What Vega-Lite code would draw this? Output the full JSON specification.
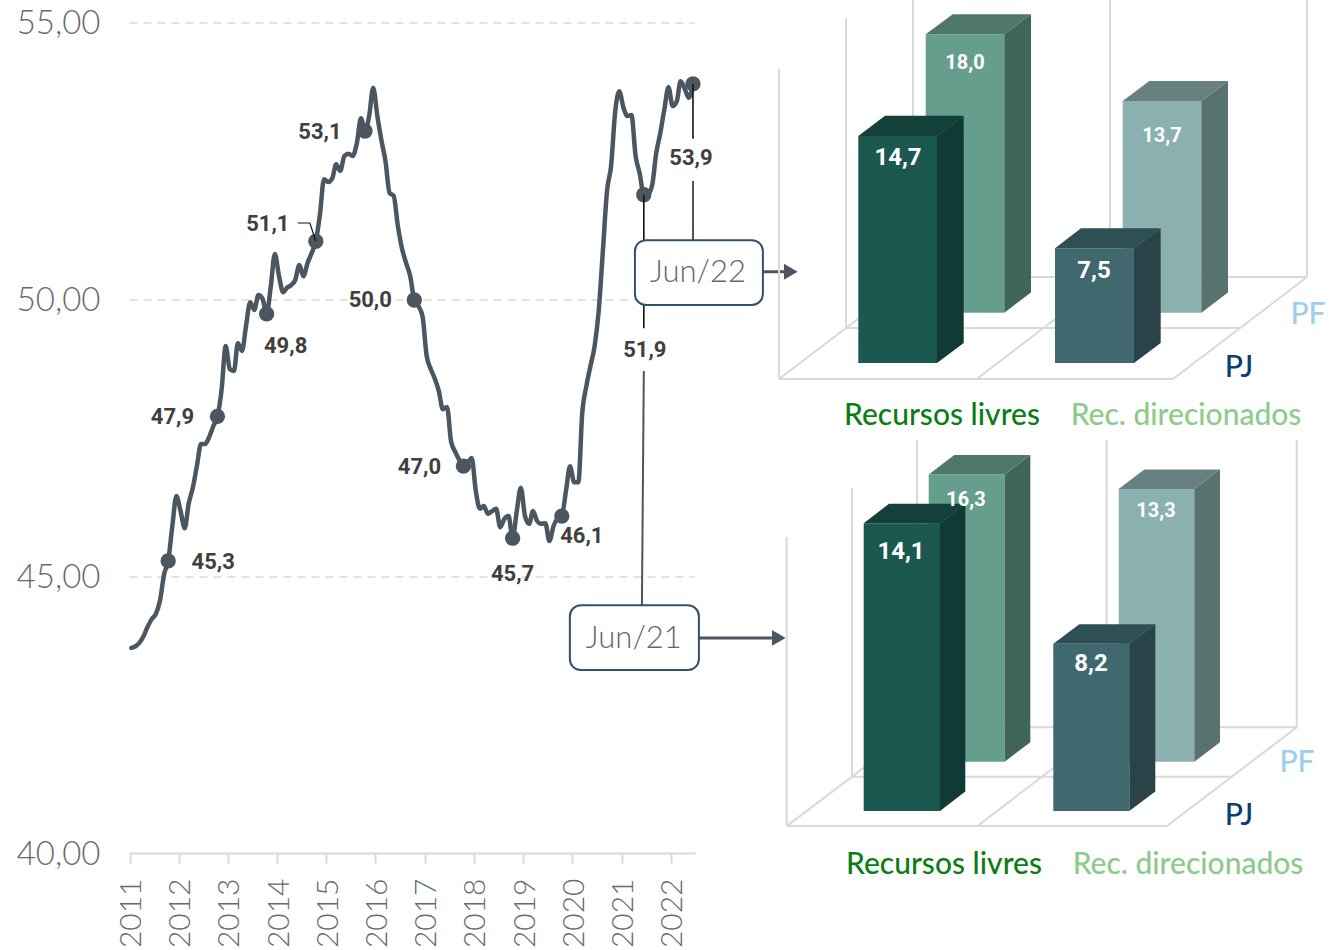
{"$schema":"https://vega.github.io/schema/vega-lite/v6.json","width":1341,"height":950,"padding":0,"autosize":"none","background":"white","config":{"view":{"stroke":null},"style":{"cell":{"stroke":null}}},
"datasets":{
"series":[
{"m":"2011-01-15","v":43.72},{"m":"2011-02-15","v":43.75},{"m":"2011-03-15","v":43.81},{"m":"2011-04-15","v":43.93},{"m":"2011-05-15","v":44.10},{"m":"2011-06-15","v":44.24},{"m":"2011-07-15","v":44.33},{"m":"2011-08-15","v":44.57},{"m":"2011-09-15","v":45.05},{"m":"2011-10-15","v":45.29,"label":"45,3"},{"m":"2011-11-15","v":45.92},{"m":"2011-12-15","v":46.46},
{"m":"2012-01-15","v":46.19},{"m":"2012-02-15","v":45.88},{"m":"2012-03-15","v":46.32},{"m":"2012-04-15","v":46.61},{"m":"2012-05-15","v":47.00},{"m":"2012-06-15","v":47.40},{"m":"2012-07-15","v":47.40},{"m":"2012-08-15","v":47.53},{"m":"2012-09-15","v":47.73},{"m":"2012-10-15","v":47.9,"label":"47,9"},{"m":"2012-11-15","v":48.39},{"m":"2012-12-15","v":49.17},
{"m":"2013-01-15","v":48.75},{"m":"2013-02-15","v":48.72},{"m":"2013-03-15","v":49.22},{"m":"2013-04-15","v":49.08},{"m":"2013-05-15","v":49.53},{"m":"2013-06-15","v":49.96},{"m":"2013-07-15","v":49.82},{"m":"2013-08-15","v":50.09},{"m":"2013-09-15","v":50.02},{"m":"2013-10-15","v":49.75,"label":"49,8"},{"m":"2013-11-15","v":50.25},{"m":"2013-12-15","v":50.83},
{"m":"2014-01-15","v":50.43},{"m":"2014-02-15","v":50.14},{"m":"2014-03-15","v":50.22},{"m":"2014-04-15","v":50.27},{"m":"2014-05-15","v":50.36},{"m":"2014-06-15","v":50.63},{"m":"2014-07-15","v":50.43},{"m":"2014-08-15","v":50.67},{"m":"2014-09-15","v":50.85},{"m":"2014-10-15","v":51.06,"label":"51,1"},{"m":"2014-11-15","v":51.55},{"m":"2014-12-15","v":52.18},
{"m":"2015-01-15","v":52.13},{"m":"2015-02-15","v":52.20},{"m":"2015-03-15","v":52.45},{"m":"2015-04-15","v":52.33},{"m":"2015-05-15","v":52.60},{"m":"2015-06-15","v":52.64},{"m":"2015-07-15","v":52.60},{"m":"2015-08-15","v":52.82},{"m":"2015-09-15","v":53.28},{"m":"2015-10-15","v":53.05,"label":"53,1"},{"m":"2015-11-15","v":53.32},{"m":"2015-12-15","v":53.83},
{"m":"2016-01-15","v":53.32},{"m":"2016-02-15","v":52.87},{"m":"2016-03-15","v":52.51},{"m":"2016-04-15","v":51.93},{"m":"2016-05-15","v":51.88},{"m":"2016-06-15","v":51.34},{"m":"2016-07-15","v":50.94},{"m":"2016-08-15","v":50.67},{"m":"2016-09-15","v":50.43},{"m":"2016-10-15","v":50.0,"label":"50,0"},{"m":"2016-11-15","v":49.89},{"m":"2016-12-15","v":49.71},
{"m":"2017-01-15","v":48.99},{"m":"2017-02-15","v":48.75},{"m":"2017-03-15","v":48.59},{"m":"2017-04-15","v":48.36},{"m":"2017-05-15","v":48.03},{"m":"2017-06-15","v":48.07},{"m":"2017-07-15","v":47.45},{"m":"2017-08-15","v":47.26},{"m":"2017-09-15","v":47.11},{"m":"2017-10-15","v":47.0,"label":"47,0"},{"m":"2017-11-15","v":47.06},{"m":"2017-12-15","v":47.15},
{"m":"2018-01-15","v":46.55},{"m":"2018-02-15","v":46.23},{"m":"2018-03-15","v":46.28},{"m":"2018-04-15","v":46.14},{"m":"2018-05-15","v":46.19},{"m":"2018-06-15","v":46.23},{"m":"2018-07-15","v":45.90},{"m":"2018-08-15","v":46.05},{"m":"2018-09-15","v":46.10},{"m":"2018-10-15","v":45.7,"label":"45,7"},{"m":"2018-11-15","v":46.19},{"m":"2018-12-15","v":46.61},
{"m":"2019-01-15","v":46.10},{"m":"2019-02-15","v":45.96},{"m":"2019-03-15","v":46.19},{"m":"2019-04-15","v":46.01},{"m":"2019-05-15","v":45.96},{"m":"2019-06-15","v":45.97},{"m":"2019-07-15","v":45.65},{"m":"2019-08-15","v":45.92},{"m":"2019-09-15","v":46.06},{"m":"2019-10-15","v":46.1,"label":"46,1"},{"m":"2019-11-15","v":46.55},{"m":"2019-12-15","v":47.00},
{"m":"2020-01-15","v":46.71},{"m":"2020-02-15","v":46.71},{"m":"2020-03-15","v":47.96},{"m":"2020-04-15","v":48.45},{"m":"2020-05-15","v":48.81},{"m":"2020-06-15","v":49.17},{"m":"2020-07-15","v":49.80},{"m":"2020-08-15","v":50.88},{"m":"2020-09-15","v":51.97},{"m":"2020-10-15","v":52.42},{"m":"2020-11-15","v":53.41},{"m":"2020-12-15","v":53.77},
{"m":"2021-01-15","v":53.47},{"m":"2021-02-15","v":53.32},{"m":"2021-03-15","v":53.34},{"m":"2021-04-15","v":52.60},{"m":"2021-05-15","v":52.29},{"m":"2021-06-15","v":51.9,"label":"51,9"},{"m":"2021-07-15","v":51.91},{"m":"2021-08-15","v":52.06},{"m":"2021-09-15","v":52.65},{"m":"2021-10-15","v":53.01},{"m":"2021-11-15","v":53.45},{"m":"2021-12-15","v":53.84},
{"m":"2022-01-15","v":53.50},{"m":"2022-02-15","v":53.59},{"m":"2022-03-15","v":53.95},{"m":"2022-04-15","v":53.81},{"m":"2022-05-15","v":53.65},{"m":"2022-06-15","v":53.9,"label":"53,9"}],
"gridY":[{"v":45,"m":"2011-01-01","m2":"2022-06-30"},{"v":50,"m":"2011-01-01","m2":"2022-06-30"},{"v":55,"m":"2011-01-01","m2":"2022-06-30"}],
"leadBlack":[{"g":"a","m":"2022-06-15","v":53.9},{"g":"a","m":"2022-06-15","v":52.91},{"g":"b","m":"2021-06-15","v":51.9},{"g":"b","m":"2021-06-15","v":49.49}],
"leadThin":[{"m":"2014-06-03","v":51.39},{"m":"2014-09-01","v":51.39},{"m":"2014-10-15","v":51.06}],
"leadGrey":[{"g":"c","m":"2022-06-15","v":52.15},{"g":"c","m":"2022-06-15","v":51.06},{"g":"d","m":"2021-06-15","v":48.72},{"g":"d","m":"2021-06-01","v":44.48}],
"arrows":[{"g":"e","m":"2023-11-16","v":50.51},{"g":"e","m":"2024-04-27","v":50.51},{"g":"f","m":"2022-07-29","v":43.9},{"g":"f","m":"2024-01-22","v":43.9}],
"tips":[{"m":"2024-06-10","v":50.51},{"m":"2024-03-13","v":43.9}],
"boxes":[{"m":"2021-04-10","m2":"2023-11-16","v":51.08,"v2":49.91,"mc":"2022-07-22","vc":50.49,"t":"Jun/22"},{"m":"2019-12-14","m2":"2022-07-29","v":44.49,"v2":43.32,"mc":"2021-04-02","vc":43.88,"t":"Jun/21"}],
"grid1":[{"g":"a","u":-0.1,"v":-1.04},{"g":"a","u":39.3,"v":-1.04},{"g":"b","u":6.6,"v":2.27},{"g":"b","u":46,"v":2.27},{"g":"c","u":13.3,"v":5.58},{"g":"c","u":52.7,"v":5.58},{"g":"d","u":-0.1,"v":-1.04},{"g":"d","u":13.3,"v":5.58},{"g":"e","u":19.67,"v":-1.04},{"g":"e","u":33,"v":5.58},{"g":"f","u":39.3,"v":-1.04},{"g":"f","u":52.7,"v":5.58},{"g":"h","u":-0.1,"v":-1.04},{"g":"h","u":-0.1,"v":19.09},{"g":"i","u":6.6,"v":2.27},{"g":"i","u":6.6,"v":22.4},{"g":"j","u":13.3,"v":5.58},{"g":"j","u":13.3,"v":23.57},{"g":"k","u":33,"v":5.58},{"g":"k","u":33,"v":23.57},{"g":"l","u":52.7,"v":5.58},{"g":"l","u":52.7,"v":23.57}],
"faces1":[{"f":"PF livres frente","u":14.57,"v":3.27,"v2":21.34},{"f":"PF livres frente","u":22.43,"v":3.27,"v2":21.34},{"f":"PF livres lado","u":22.43,"v":3.27,"v2":21.34},{"f":"PF livres lado","u":25.1,"v":4.57,"v2":22.64},{"f":"PF dir frente","u":34.27,"v":3.27,"v2":17.01},{"f":"PF dir frente","u":42.13,"v":3.27,"v2":17.01},{"f":"PF dir lado","u":42.13,"v":3.27,"v2":17.01},{"f":"PF dir lado","u":44.8,"v":4.57,"v2":18.31},{"f":"PJ livres frente","u":7.83,"v":0,"v2":14.74},{"f":"PJ livres frente","u":15.7,"v":0,"v2":14.74},{"f":"PJ livres lado","u":15.7,"v":0,"v2":14.74},{"f":"PJ livres lado","u":18.37,"v":1.3,"v2":16.05},{"f":"PJ dir frente","u":27.5,"v":0,"v2":7.45},{"f":"PJ dir frente","u":35.4,"v":0,"v2":7.45},{"f":"PJ dir lado","u":35.4,"v":0,"v2":7.45},{"f":"PJ dir lado","u":38.07,"v":1.3,"v2":8.75}],
"tops1":[{"f":"PF livres topo","u":14.57,"u2":22.43,"v":21.34},{"f":"PF livres topo","u":17.27,"u2":25.1,"v":22.64},{"f":"PF dir topo","u":34.27,"u2":42.13,"v":17.01},{"f":"PF dir topo","u":36.93,"u2":44.8,"v":18.31},{"f":"PJ livres topo","u":7.83,"u2":15.7,"v":14.74},{"f":"PJ livres topo","u":10.5,"u2":18.37,"v":16.05},{"f":"PJ dir topo","u":27.5,"u2":35.4,"v":7.45},{"f":"PJ dir topo","u":30.1,"u2":38.07,"v":8.75}],
"valPJ1":[{"t":"14,7","u":11.8,"v":13.31},{"t":"7,5","u":31.4,"v":5.97}],
"valPF1":[{"t":"18,0","u":18.5,"v":19.48},{"t":"13,7","u":38.2,"v":14.74}],
"cat1":[{"t":"Recursos livres","f":"Recursos livres","u":16.2,"v":-3.44},{"t":"Rec. direcionados","f":"Rec. direcionados","u":40.6,"v":-3.44},{"t":"PF","f":"PF","u":52.8,"v":3.12},{"t":"PJ","f":"PJ","u":45.9,"v":-0.32}],
"grid2":[{"g":"a","u":0.67,"v":-0.74},{"g":"a","u":38.67,"v":-0.74},{"g":"b","u":7.2,"v":1.68},{"g":"b","u":45.17,"v":1.68},{"g":"c","u":13.7,"v":4.1},{"g":"c","u":51.67,"v":4.1},{"g":"d","u":0.67,"v":-0.74},{"g":"d","u":13.7,"v":4.1},{"g":"e","u":19.73,"v":-0.74},{"g":"e","u":32.67,"v":4.1},{"g":"f","u":38.67,"v":-0.74},{"g":"f","u":51.67,"v":4.1},{"g":"h","u":0.67,"v":-0.74},{"g":"h","u":0.67,"v":13.43},{"g":"i","u":7.2,"v":1.68},{"g":"i","u":7.2,"v":15.83},{"g":"j","u":13.7,"v":4.1},{"g":"j","u":13.7,"v":18.19},{"g":"k","u":32.67,"v":4.1},{"g":"k","u":32.67,"v":18.19},{"g":"l","u":51.67,"v":4.1},{"g":"l","u":51.67,"v":18.19}],
"faces2":[{"f":"PF livres frente","u":14.87,"v":2.42,"v2":16.5},{"f":"PF livres frente","u":22.47,"v":2.42,"v2":16.5},{"f":"PF livres lado","u":22.47,"v":2.42,"v2":16.5},{"f":"PF livres lado","u":25.03,"v":3.37,"v2":17.45},{"f":"PF dir frente","u":33.87,"v":2.42,"v2":15.78},{"f":"PF dir frente","u":41.43,"v":2.42,"v2":15.78},{"f":"PF dir lado","u":41.43,"v":2.42,"v2":15.78},{"f":"PF dir lado","u":44,"v":3.37,"v2":16.74},{"f":"PJ livres frente","u":8.37,"v":0,"v2":14.1},{"f":"PJ livres frente","u":16,"v":0,"v2":14.1},{"f":"PJ livres lado","u":16,"v":0,"v2":14.1},{"f":"PJ livres lado","u":18.53,"v":0.95,"v2":15.06},{"f":"PJ dir frente","u":27.33,"v":0,"v2":8.2},{"f":"PJ dir frente","u":34.93,"v":0,"v2":8.2},{"f":"PJ dir lado","u":34.93,"v":0,"v2":8.2},{"f":"PJ dir lado","u":37.53,"v":0.95,"v2":9.15}],
"tops2":[{"f":"PF livres topo","u":14.87,"u2":22.47,"v":16.5},{"f":"PF livres topo","u":17.43,"u2":25.03,"v":17.45},{"f":"PF dir topo","u":33.87,"u2":41.43,"v":15.78},{"f":"PF dir topo","u":36.43,"u2":44,"v":16.74},{"f":"PJ livres topo","u":8.37,"u2":16,"v":14.1},{"f":"PJ livres topo","u":10.9,"u2":18.53,"v":15.06},{"f":"PJ dir topo","u":27.33,"u2":34.93,"v":8.2},{"f":"PJ dir topo","u":29.93,"u2":37.53,"v":9.15}],
"valPJ2":[{"t":"14,1","u":12.1,"v":12.7},{"t":"8,2","u":31.1,"v":7.2}],
"valPF2":[{"t":"16,3","u":18.6,"v":15.25},{"t":"13,3","u":37.6,"v":14.7}],
"cat2":[{"t":"Recursos livres","f":"Recursos livres","u":16.4,"v":-2.65},{"t":"Rec. direcionados","f":"Rec. direcionados","u":40.8,"v":-2.65},{"t":"PF","f":"PF","u":51.7,"v":2.35},{"t":"PJ","f":"PJ","u":45.9,"v":-0.25}]
},
"resolve":{"scale":{"x":"independent","y":"independent"},"axis":{"x":"independent","y":"independent"}},
"layer":[
{"encoding":{"x":{"field":"m","type":"temporal","scale":{"type":"utc","domain":["2011-01-01","2022-06-30"],"range":[129.5,695],"nice":false},"axis":{"title":null,"offset":-97,"tickCount":{"interval":"year"},"format":"%Y","labelAngle":270,"labelOffset":2,"labelFont":"Lato","labelFontWeight":300,"labelFontSize":30,"labelColor":"#666b70","labelPadding":15,"tickSize":10,"tickWidth":2,"tickColor":"#d9d9d9","domainColor":"#d9d9d9","domainWidth":2,"grid":false,"labelOverlap":false,"labelBound":false,"labelFlush":false}},"y":{"field":"v","type":"quantitative","scale":{"domain":[40,55],"range":[854,23],"nice":false,"zero":false},"axis":{"title":null,"values":[40,45,50,55],"labelExpr":"replace(format(datum.value,'.2f'),'.',',')","domain":false,"ticks":false,"grid":false,"offset":-100,"labelPadding":0,"labelFont":"Lato","labelFontWeight":300,"labelFontSize":33,"labelColor":"#666b70"}}},
"layer":[
{"data":{"name":"gridY"},"mark":{"type":"rule","stroke":"#d9d9d9","strokeWidth":1.5,"strokeDash":[8,6]},"encoding":{"x2":{"field":"m2"}}},
{"data":{"name":"series"},"mark":{"type":"line","stroke":"#4b5660","strokeWidth":4.5,"interpolate":"monotone","strokeCap":"round","strokeJoin":"round"}},
{"data":{"name":"series"},"transform":[{"filter":"isValid(datum.label)"}],"mark":{"type":"point","filled":true,"shape":"circle","size":234,"color":"#4b5660","opacity":1}},
{"data":{"name":"leadBlack"},"mark":{"type":"line","stroke":"#111111","strokeWidth":1.6},"encoding":{"detail":{"field":"g"}}},
{"data":{"name":"leadThin"},"mark":{"type":"line","stroke":"#111111","strokeWidth":1.2}},
{"data":{"name":"leadGrey"},"mark":{"type":"line","stroke":"#4b5660","strokeWidth":2},"encoding":{"detail":{"field":"g"}}},
{"data":{"name":"arrows"},"mark":{"type":"line","stroke":"#4b5660","strokeWidth":3},"encoding":{"detail":{"field":"g"}}},
{"data":{"name":"tips"},"mark":{"type":"point","filled":true,"shape":"triangle-right","size":250,"color":"#4b5660","opacity":1}},
{"data":{"name":"boxes"},"mark":{"type":"rect","fill":"white","stroke":"#34506b","strokeWidth":2,"cornerRadius":11},"encoding":{"x2":{"field":"m2"},"y2":{"field":"v2"}}},
{"data":{"name":"boxes"},"mark":{"type":"text","font":"Lato","fontWeight":300,"fontSize":31,"color":"#5f6871"},"encoding":{"x":{"field":"mc","type":"temporal"},"y":{"field":"vc","type":"quantitative"},"text":{"field":"t"}}},
{"data":{"name":"series"},"transform":[{"filter":"datum.label=='45,3'"}],"mark":{"type":"text","font":"Roboto","fontWeight":"bold","fontSize":22,"color":"#3f3f3f","dx":45,"dy":1},"encoding":{"text":{"field":"label"}}},
{"data":{"name":"series"},"transform":[{"filter":"datum.label=='47,9'"}],"mark":{"type":"text","font":"Roboto","fontWeight":"bold","fontSize":22,"color":"#3f3f3f","dx":-45,"dy":1},"encoding":{"text":{"field":"label"}}},
{"data":{"name":"series"},"transform":[{"filter":"datum.label=='49,8'"}],"mark":{"type":"text","font":"Roboto","fontWeight":"bold","fontSize":22,"color":"#3f3f3f","dx":19,"dy":32},"encoding":{"text":{"field":"label"}}},
{"data":{"name":"series"},"transform":[{"filter":"datum.label=='51,1'"}],"mark":{"type":"text","font":"Roboto","fontWeight":"bold","fontSize":22,"color":"#3f3f3f","dx":-48,"dy":-17},"encoding":{"text":{"field":"label"}}},
{"data":{"name":"series"},"transform":[{"filter":"datum.label=='53,1'"}],"mark":{"type":"text","font":"Roboto","fontWeight":"bold","fontSize":22,"color":"#3f3f3f","dx":-45,"dy":1},"encoding":{"text":{"field":"label"}}},
{"data":{"name":"series"},"transform":[{"filter":"datum.label=='50,0'"}],"mark":{"type":"text","font":"Roboto","fontWeight":"bold","fontSize":22,"color":"#3f3f3f","dx":-44,"dy":0},"encoding":{"text":{"field":"label"}}},
{"data":{"name":"series"},"transform":[{"filter":"datum.label=='47,0'"}],"mark":{"type":"text","font":"Roboto","fontWeight":"bold","fontSize":22,"color":"#3f3f3f","dx":-44,"dy":1},"encoding":{"text":{"field":"label"}}},
{"data":{"name":"series"},"transform":[{"filter":"datum.label=='45,7'"}],"mark":{"type":"text","font":"Roboto","fontWeight":"bold","fontSize":22,"color":"#3f3f3f","dx":0,"dy":36},"encoding":{"text":{"field":"label"}}},
{"data":{"name":"series"},"transform":[{"filter":"datum.label=='46,1'"}],"mark":{"type":"text","font":"Roboto","fontWeight":"bold","fontSize":22,"color":"#3f3f3f","dx":20,"dy":20},"encoding":{"text":{"field":"label"}}},
{"data":{"name":"series"},"transform":[{"filter":"datum.label=='51,9'"}],"mark":{"type":"text","font":"Roboto","fontWeight":"bold","fontSize":22,"color":"#3f3f3f","dx":1,"dy":155},"encoding":{"text":{"field":"label"}}},
{"data":{"name":"series"},"transform":[{"filter":"datum.label=='53,9'"}],"mark":{"type":"text","font":"Roboto","fontWeight":"bold","fontSize":22,"color":"#3f3f3f","dx":-2,"dy":74},"encoding":{"text":{"field":"label"}}}
]},
{"encoding":{"x":{"field":"u","type":"quantitative","axis":null,"scale":{"domain":[0,53],"range":[780,1310],"nice":false,"zero":false}},"y":{"field":"v","type":"quantitative","axis":null,"stack":null,"scale":{"domain":[0,20],"range":[363,55],"nice":false,"zero":false}}},
"layer":[
{"data":{"name":"grid1"},"mark":{"type":"line","stroke":"#d9d9d9","strokeWidth":2,"clip":false},"encoding":{"detail":{"field":"g"}}},
{"data":{"name":"faces1"},"mark":{"type":"area","orient":"vertical"},"encoding":{"y2":{"field":"v2"},"color":{"field":"f","type":"nominal","legend":null,"scale":{"domain":["PF livres frente","PF livres lado","PF livres topo","PF dir frente","PF dir lado","PF dir topo","PJ livres frente","PJ livres lado","PJ livres topo","PJ dir frente","PJ dir lado","PJ dir topo","Recursos livres","Rec. direcionados","PF","PJ"],"range":["#669e8d","#406658","#4f7868","#8ab0af","#587270","#66817f","#1a5850","#113a36","#13403b","#3f696f","#2a4348","#2e4f54","#0a7d14","#8ccb88","#9ccfee","#0b3f73"]}}}},
{"data":{"name":"tops1"},"mark":{"type":"area","orient":"horizontal"},"encoding":{"x2":{"field":"u2"},"color":{"field":"f","type":"nominal","legend":null}}},
{"data":{"name":"valPF1"},"mark":{"type":"text","font":"Roboto","fontWeight":"bold","fontSize":20,"color":"white"},"encoding":{"text":{"field":"t"}}},
{"data":{"name":"valPJ1"},"mark":{"type":"text","font":"Roboto","fontWeight":"bold","fontSize":24,"color":"white"},"encoding":{"text":{"field":"t"}}},
{"data":{"name":"cat1"},"mark":{"type":"text","font":"Lato","fontSize":30,"fontWeight":500},"encoding":{"text":{"field":"t"},"color":{"field":"f","type":"nominal","legend":null}}}
]},
{"encoding":{"x":{"field":"u","type":"quantitative","axis":null,"scale":{"domain":[0,53],"range":[780,1310],"nice":false,"zero":false}},"y":{"field":"v","type":"quantitative","axis":null,"stack":null,"scale":{"domain":[0,20],"range":[811,403],"nice":false,"zero":false}}},
"layer":[
{"data":{"name":"grid2"},"mark":{"type":"line","stroke":"#d9d9d9","strokeWidth":2},"encoding":{"detail":{"field":"g"}}},
{"data":{"name":"faces2"},"mark":{"type":"area","orient":"vertical"},"encoding":{"y2":{"field":"v2"},"color":{"field":"f","type":"nominal","legend":null}}},
{"data":{"name":"tops2"},"mark":{"type":"area","orient":"horizontal"},"encoding":{"x2":{"field":"u2"},"color":{"field":"f","type":"nominal","legend":null}}},
{"data":{"name":"valPF2"},"mark":{"type":"text","font":"Roboto","fontWeight":"bold","fontSize":20,"color":"white"},"encoding":{"text":{"field":"t"}}},
{"data":{"name":"valPJ2"},"mark":{"type":"text","font":"Roboto","fontWeight":"bold","fontSize":24,"color":"white"},"encoding":{"text":{"field":"t"}}},
{"data":{"name":"cat2"},"mark":{"type":"text","font":"Lato","fontSize":30,"fontWeight":500},"encoding":{"text":{"field":"t"},"color":{"field":"f","type":"nominal","legend":null}}}
]}
]}
